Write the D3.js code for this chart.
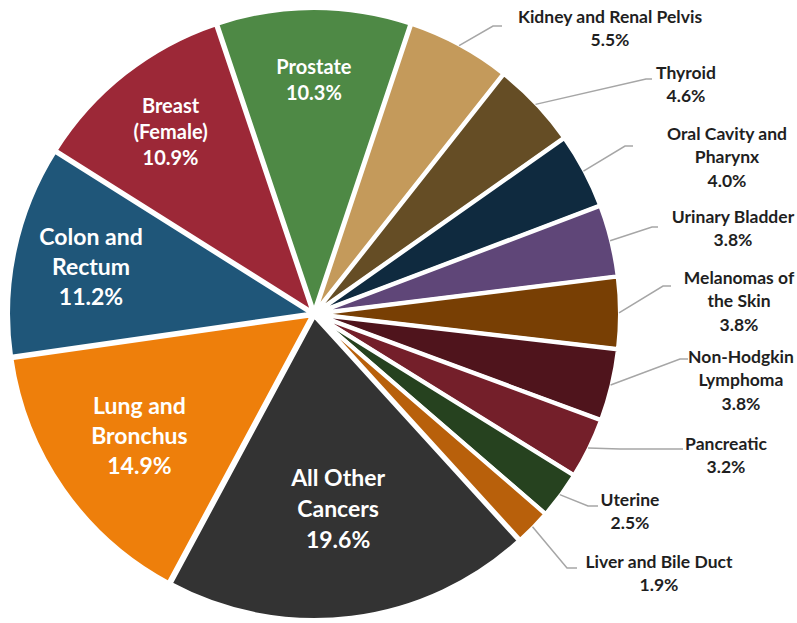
<!DOCTYPE html>
<html><head><meta charset="utf-8">
<script src="https://cdn.jsdelivr.net/npm/d3@7"></script>
<style>html,body{margin:0;padding:0;background:#fff;}svg{display:block;}</style>
</head><body>
<svg id="chart" width="797" height="623"></svg>
<script>
// ---- data ----
const categories = ["Kidney and Renal Pelvis","Thyroid","Oral Cavity and Pharynx","Urinary Bladder","Melanomas of the Skin","Non-Hodgkin Lymphoma","Pancreatic","Uterine","Liver and Bile Duct","All Other Cancers","Lung and Bronchus","Colon and Rectum","Breast (Female)","Prostate"];
const values = [5.5,4.6,4.0,3.8,3.8,3.8,3.2,2.5,1.9,19.6,14.9,11.2,10.9,10.3];
const labelLines = [
  ["Kidney and Renal Pelvis"],["Thyroid"],["Oral Cavity and","Pharynx"],["Urinary Bladder"],
  ["Melanomas of","the Skin"],["Non-Hodgkin","Lymphoma"],["Pancreatic"],["Uterine"],["Liver and Bile Duct"],
  ["All Other","Cancers"],["Lung and","Bronchus"],["Colon and","Rectum"],["Breast","(Female)"],["Prostate"]
];
const colors = ["#C49A5B","#654D25","#0F2A3F","#5F4678","#783F04","#4F141C","#741F2A","#26421F","#B8600B","#333333","#EE7F0B","#1F5679","#9C2837","#4E8945"];

// ---- layout ----
const W = 797, H = 623;
const cx = 314, cy = 314, R = 304, explode = 2;
const startDeg = 18.5;
// inside labels: [radius, fontSize, lineHeight]
const insideLayout = {9:[196,23,31],10:[213,23,30],11:[228,23,30],12:[232,20,26],13:[234,20,26]};
// outside labels: label centre x, first line y, elbow point, end point
const outsideLayout = [
  {x:610,y:17,elbow:[493,26],end:[502,26]},
  {x:686,y:73,elbow:[646,79],end:[652,79]},
  {x:727,y:134,elbow:[625,146],end:[633,146]},
  {x:733,y:217,elbow:[652,227],end:[658,227]},
  {x:739,y:278,elbow:[663,286],end:[671,286]},
  {x:741,y:357,elbow:[680,359],end:[688,359]},
  {x:726,y:444,elbow:[620,449],end:[683,449]},
  {x:630,y:500,elbow:[588,506],end:[598,506]},
  {x:659,y:562,elbow:[567,568],end:[577,568]}
];

const svg = d3.select("#chart");
const g = svg.append("g").attr("transform",`translate(${cx},${cy})`);
const pie = d3.pie().sort(null).value(d=>d)
  .startAngle(startDeg*Math.PI/180).endAngle(startDeg*Math.PI/180+2*Math.PI);
const arcs = pie(values);
const arc = d3.arc().innerRadius(0).outerRadius(R);

g.selectAll("path.slice").data(arcs).join("path")
  .attr("class","slice")
  .attr("d",arc)
  .attr("fill",(d,i)=>colors[i])
  .attr("stroke","#fff").attr("stroke-width",4).attr("stroke-linejoin","round")
  .attr("transform",d=>{const a=(d.startAngle+d.endAngle)/2;return `translate(${explode*Math.sin(a)},${-explode*Math.cos(a)})`;});

const font = "Lato, 'Open Sans', sans-serif";

// inside labels
arcs.forEach((d,i)=>{
  const L = insideLayout[i];
  if(!L) return;
  const a=(d.startAngle+d.endAngle)/2;
  const lx = L[0]*Math.sin(a), ly = -L[0]*Math.cos(a);
  const lines = labelLines[i].concat([values[i].toFixed(1)+"%"]);
  const t = g.append("text").attr("text-anchor","middle")
    .attr("font-family",font).attr("font-weight",700).attr("font-size",L[1]).attr("fill","#fff");
  const y0 = ly - (lines.length-1)*L[2]/2;
  lines.forEach((s,k)=>t.append("tspan").attr("x",lx).attr("y",y0+k*L[2]).attr("dy","0.35em").text(s));
});

// outside labels with leader lines
const gl = svg.append("g");
arcs.forEach((d,i)=>{
  const L = outsideLayout[i];
  if(!L) return;
  const a=(d.startAngle+d.endAngle)/2;
  const rs = R - 1;
  const sx = cx + (rs+explode)*Math.sin(a), sy = cy - (rs+explode)*Math.cos(a);
  gl.append("polyline")
    .attr("points",[[sx,sy],L.elbow,L.end].map(p=>p.join(",")).join(" "))
    .attr("fill","none").attr("stroke","#A6A6A6").attr("stroke-width",1.5);
  const lines = labelLines[i].concat([values[i].toFixed(1)+"%"]);
  const t = gl.append("text").attr("text-anchor","middle")
    .attr("font-family",font).attr("font-weight",700).attr("font-size",17.5).attr("fill","#1F1F1F");
  lines.forEach((s,k)=>t.append("tspan").attr("x",L.x).attr("y",L.y+k*23.3).attr("dy","0.35em").text(s));
});
</script>
</body></html>
